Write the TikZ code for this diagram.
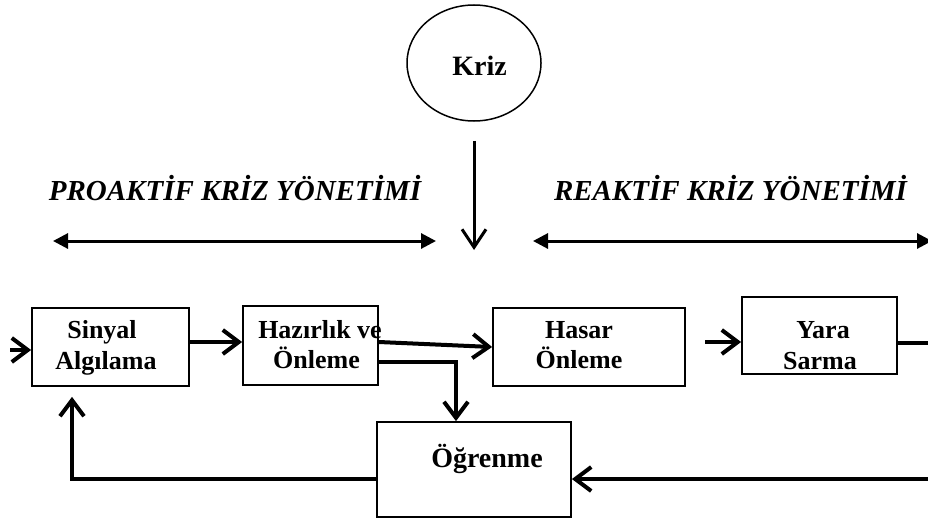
\documentclass[tikz,border=0pt]{standalone}
\usepackage{fontspec}
\setmainfont{Liberation Serif}
\usetikzlibrary{arrows.meta,shapes.geometric}
\begin{document}
\begin{tikzpicture}[x=1pt,y=-1pt,
  box/.style={draw, line width=1.8pt, inner sep=0pt},
  txt/.style={font=\fontsize{26}{30}\selectfont\bfseries, inner sep=0pt, anchor=base},
  bigtxt/.style={font=\fontsize{28}{32}\selectfont\bfseries, inner sep=0pt, anchor=base},
  headtxt/.style={font=\fontsize{29}{34}\selectfont\bfseries\itshape, inner sep=0pt, anchor=base},
  conn/.style={line width=4pt, -{Straight Barb[length=16pt,width=24pt,line width=4pt]}},
  plain/.style={line width=4pt},
  dbl/.style={line width=3pt, {Triangle[length=15pt,width=15pt]}-{Triangle[length=15pt,width=15pt]}}]
\useasboundingbox (0,0) rectangle (928,519);

% Kriz
\node[ellipse, draw, line width=1.5pt, minimum width=134pt, minimum height=116pt, inner sep=0pt] (kriz) at (474,63) {};
\node[bigtxt] (krizT) at (479.5,75) {Kriz};
\coordinate (krizEnd) at (474,250);
\draw[line width=3pt, -{Straight Barb[length=18pt,width=24pt,line width=3pt]}, shorten <=19pt] (kriz.south) -- (krizEnd);

% headings
\node[headtxt] (pro) at (235,200) {PROAKTİF KRİZ YÖNETİMİ};
\node[headtxt] (rea) at (730.5,200) {REAKTİF KRİZ YÖNETİMİ};
\coordinate (pl1) at (53,241);
\coordinate (pl2) at (436,241);
\coordinate (rl1) at (533,241);
\coordinate (rl2) at (932,241);
\draw[dbl] (pl1) -- (pl2);
\draw[dbl] (rl1) -- (rl2);

% boxes
\node[box, minimum width=157pt, minimum height=78pt] (sinyal) at (110.5,347) {};
\node[box, minimum width=135pt, minimum height=79pt] (hazir) at (310.5,345.5) {};
\node[box, minimum width=192pt, minimum height=78pt] (hasar) at (589,347) {};
\node[box, minimum width=155pt, minimum height=77pt] (yara) at (819.5,335.5) {};
\node[box, minimum width=194pt, minimum height=95pt] (ogren) at (474,469.5) {};

% box texts
\node[txt] (s1) at (102,338) {Sinyal};
\node[txt] (s2) at (106,369) {Algılama};
\node[txt] (h1) at (320,338) {Hazırlık ve};
\node[txt] (h2) at (316.5,368) {Önleme};
\node[txt] (d1) at (579,338) {Hasar};
\node[txt] (d2) at (579,368) {Önleme};
\node[txt] (y1) at (823,338) {Yara};
\node[txt] (y2) at (820,369) {Sarma};
\node[bigtxt] (o1) at (487,467) {Öğrenme};

% connectors
\coordinate (inStart) at (10,350);
\draw[conn] (inStart) -- (sinyal.west |- inStart);
\draw[conn] (sinyal.east |- 0,342) -- (hazir.west |- 0,342);
\draw[conn] (hazir.east |- 0,342) -- (hasar.west |- 0,347);
\draw[conn, rounded corners=0pt] (hazir.east |- 0,362) -| (ogren.north -| 456,0);
\coordinate (yaraIn) at (705,342);
\draw[conn] (yaraIn) -- (yara.west |- yaraIn);
\coordinate (rightTop) at (930,343);
\draw[plain] (yara.east |- rightTop) -- (rightTop);
\coordinate (rightBot) at (930,479);
\draw[conn] (rightBot) -- (ogren.east |- rightBot);
\draw[conn, shorten >=10pt] (ogren.west |- 0,479) -| (sinyal.south -| 72,0);
\end{tikzpicture}
\end{document}
